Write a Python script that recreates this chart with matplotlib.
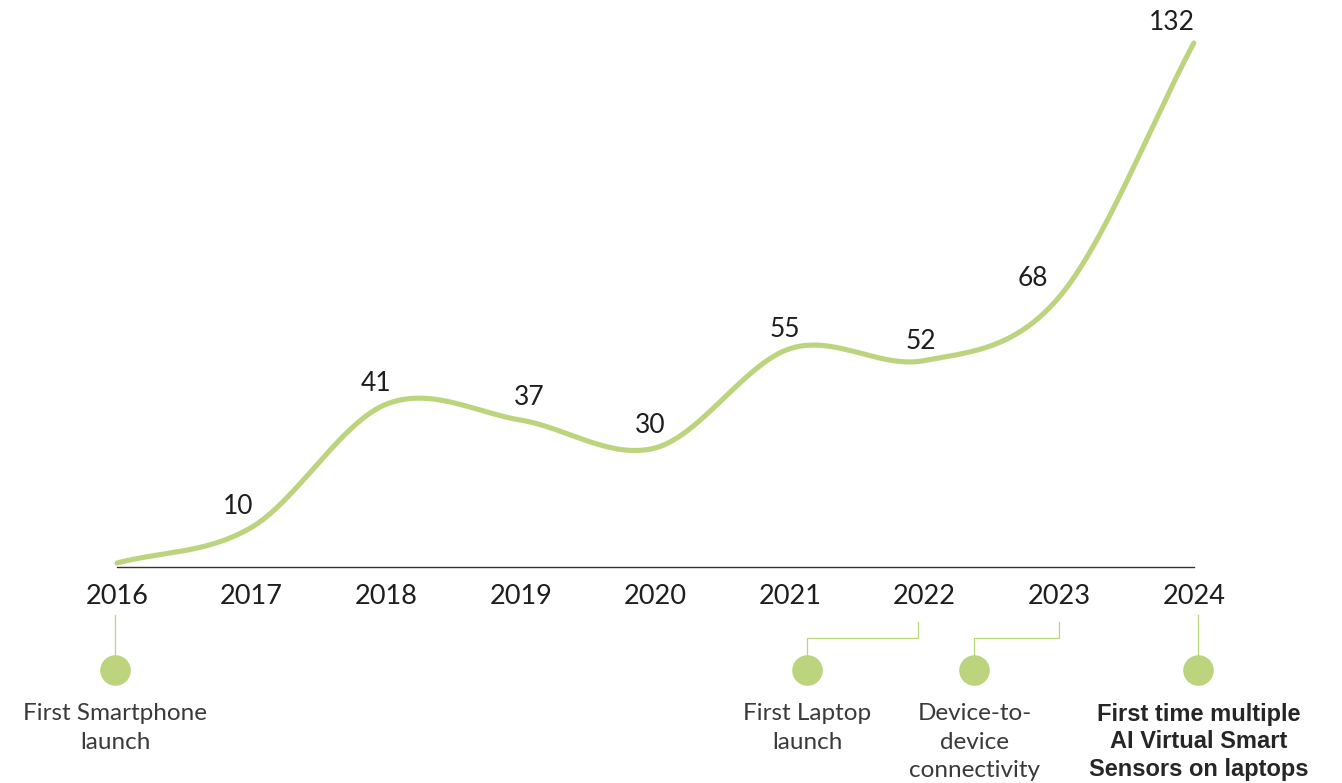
import numpy as np
import matplotlib
matplotlib.use("Agg")
from matplotlib import pyplot as plt

years = ["2016", "2017", "2018", "2019", "2020", "2021", "2022", "2023", "2024"]
values = [1, 10, 41, 37, 30, 55, 52, 68, 132]
labelled = [False, True, True, True, True, True, True, True, True]

milestone_years = ["2016", "2022", "2023", "2024"]
milestone_texts = [
    "First Smartphone\nlaunch",
    "First Laptop\nlaunch",
    "Device-to-\ndevice\nconnectivity",
    "First time multiple\nAI Virtual Smart\nSensors on laptops",
]
milestone_bold = [False, False, False, True]

GREEN = "#bdd47f"
TEXT = "#1e1e1e"
NOTE = "#3a3a3a"

plt.rcParams["font.family"] = ["Lato", "DejaVu Sans"]


def smooth_line(x, y, n=60):
    # cubic Hermite with Catmull-Rom tangents, chord slope at the ends
    x = np.asarray(x, float)
    y = np.asarray(y, float)
    m = np.empty_like(y)
    m[1:-1] = (y[2:] - y[:-2]) / 2
    m[0] = y[1] - y[0]
    m[-1] = y[-1] - y[-2]
    xs, ys = [], []
    for i in range(len(x) - 1):
        t = np.linspace(0, 1, n, endpoint=(i == len(x) - 2))
        h00 = 2 * t**3 - 3 * t**2 + 1
        h10 = t**3 - 2 * t**2 + t
        h01 = -2 * t**3 + 3 * t**2
        h11 = t**3 - t**2
        xs.append(x[i] + t * (x[i + 1] - x[i]))
        ys.append(h00 * y[i] + h10 * m[i] + h01 * y[i + 1] + h11 * m[i + 1])
    return np.concatenate(xs), np.concatenate(ys)


fig = plt.figure(figsize=(13.42, 7.83), dpi=100)
ax = fig.add_axes([0, 0, 1, 1])
# one year = 134.6 px, one unit = 3.97 px; baseline at 567 px from top
step, unit = 134.6, 3.97
ax.set_xlim(-117 / step, (1342 - 117) / step)
ax.set_ylim(-(783 - 567) / unit, 567 / unit)
ax.axis("off")

idx = np.arange(len(years))
sx, sy = smooth_line(idx, values)
ax.plot(sx, sy, color=GREEN, lw=3.7, solid_capstyle="round", zorder=3)

# baseline
ax.plot([idx[0], idx[-1]], [0, 0], color="#333333", lw=1.0, zorder=2)

# value labels (offsets in points)
label_offsets = [(0, 0), (-10, 15), (-7, 15), (6, 16), (-4, 16),
                 (-4, 14), (-3, 14), (-19, 13), (-16, 15)]
for i, (v, show) in enumerate(zip(values, labelled)):
    if not show:
        continue
    dx, dy = label_offsets[i]
    ax.annotate(str(v), (idx[i], v), xytext=(dx, dy), textcoords="offset points",
                ha="center", va="center", fontsize=19, color=TEXT)

# year labels
for i, yr in enumerate(years):
    ax.text(idx[i], -30 / unit, yr, ha="center", va="center", fontsize=19.5, color=TEXT)


def py(p):
    # pixel row -> data value
    return (567 - p) / unit


# milestone markers: (x shift of year stem, x shift of circle)
stem_shift = {"2016": (-0.015, -0.015), "2022": (-0.05, -0.87), "2023": (0.0, -0.63),
              "2024": (0.03, 0.03)}
for yr, txt, bold in zip(milestone_years, milestone_texts, milestone_bold):
    i = years.index(yr)
    sx0, cx_off = stem_shift[yr]
    xs = idx[i] + sx0
    cx = idx[i] + cx_off
    if abs(xs - cx) > 1e-6:
        ax.plot([xs, xs, cx, cx], [py(622), py(638), py(638), py(660)],
                color=GREEN, lw=0.9, zorder=2)
    else:
        ax.plot([xs, xs], [py(615), py(660)], color=GREEN, lw=0.9, zorder=2)
    ax.plot([cx], [py(670)], marker="o", ms=22, color=GREEN, mec="none", zorder=3)
    if bold:
        ax.text(cx + 0.005, py(703), txt, ha="center", va="top", fontsize=17,
                fontweight="bold", family=["Liberation Sans", "DejaVu Sans"],
                color="#262626", linespacing=1.25)
    else:
        ax.text(cx, py(703), txt, ha="center", va="top", fontsize=17.5,
                color=NOTE, linespacing=1.45)

fig.savefig("out.png", dpi=100)
